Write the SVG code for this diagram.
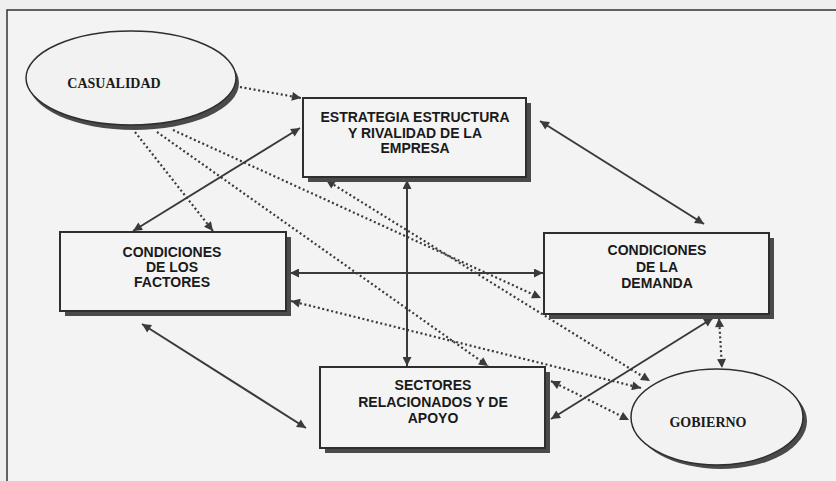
<svg xmlns="http://www.w3.org/2000/svg" width="836" height="481" viewBox="0 0 836 481">
<defs>
<style>
.box{fill:#f4f4f4;stroke:#2e2e2e;stroke-width:2}
.shadow{fill:#4a4a4a}
.lbl{font-family:"Liberation Sans",Arial,sans-serif;font-weight:bold;font-size:14px;fill:#1a1a1a;text-anchor:middle}
.olbl{font-family:"Liberation Serif","Times New Roman",serif;font-weight:bold;font-size:14px;fill:#1a1a1a;text-anchor:middle}
.solid{fill:none;stroke:#3a3a3a;stroke-width:2}
.dot{fill:none;stroke:#3a3a3a;stroke-width:2.2;stroke-dasharray:2 2.6}
</style>
<marker id="ah" viewBox="0 0 10 10" refX="10" refY="5" markerWidth="10" markerHeight="9" markerUnits="userSpaceOnUse" orient="auto-start-reverse">
<path d="M0,0 L10,5 L0,10 Z" fill="#3a3a3a"/>
</marker>
</defs>
<rect x="0" y="0" width="836" height="481" fill="#efefef"/>
<rect x="7" y="10" width="829" height="471" fill="#f3f3f3"/>
<path d="M7,481 L7,10 L836,10" fill="none" stroke="#333" stroke-width="1.5"/>

<g id="connectors">
<path class="solid" d="M133,231 L300,128" marker-start="url(#ah)" marker-end="url(#ah)"/>
<path class="solid" d="M540,121 L704,224" marker-start="url(#ah)" marker-end="url(#ah)"/>
<path class="solid" d="M407,180 L407,366" marker-start="url(#ah)" marker-end="url(#ah)"/>
<path class="solid" d="M290,273 L543,273" marker-start="url(#ah)" marker-end="url(#ah)"/>
<path class="solid" d="M142,324 L306,428" marker-start="url(#ah)" marker-end="url(#ah)"/>
<path class="solid" d="M551,419 L713,318" marker-start="url(#ah)" marker-end="url(#ah)"/>
<path class="dot" d="M240,87 L301,98" marker-end="url(#ah)"/>
<path class="dot" d="M135,132 L213,231" marker-end="url(#ah)"/>
<path class="dot" d="M157,132 L488,366" marker-end="url(#ah)"/>
<path class="dot" d="M173,130 L541,298" marker-end="url(#ah)"/>
<path class="dot" d="M326,180 L650,381" marker-start="url(#ah)" marker-end="url(#ah)"/>
<path class="dot" d="M291,301 L641,388" marker-start="url(#ah)" marker-end="url(#ah)"/>
<path class="dot" d="M551,381 L629,420" marker-start="url(#ah)" marker-end="url(#ah)"/>
<path class="dot" d="M719,318 L722,368" marker-start="url(#ah)" marker-end="url(#ah)"/>
</g>

<g id="casualidad">
<ellipse class="shadow" cx="134" cy="83" rx="105" ry="47"/>
<ellipse cx="131" cy="78" rx="105" ry="47" fill="#f2f2f2" stroke="#2e2e2e" stroke-width="1.5"/>
<text class="olbl" x="114" y="88">CASUALIDAD</text>
</g>

<g id="estrategia">
<rect class="shadow" x="308" y="103" width="223" height="79"/>
<rect class="box" x="303" y="98" width="223" height="79"/>
<text class="lbl" x="415" y="122">ESTRATEGIA ESTRUCTURA</text>
<text class="lbl" x="415" y="137.5">Y RIVALIDAD DE LA</text>
<text class="lbl" x="415" y="153">EMPRESA</text>
</g>

<g id="factores">
<rect class="shadow" x="65" y="237" width="226" height="79"/>
<rect class="box" x="60" y="232" width="226" height="79"/>
<text class="lbl" x="172" y="257">CONDICIONES</text>
<text class="lbl" x="172" y="272">DE LOS</text>
<text class="lbl" x="172" y="287">FACTORES</text>
</g>

<g id="demanda">
<rect class="shadow" x="549" y="238" width="225" height="81"/>
<rect class="box" x="544" y="233" width="225" height="81"/>
<text class="lbl" x="657" y="255">CONDICIONES</text>
<text class="lbl" x="657" y="271.5">DE LA</text>
<text class="lbl" x="657" y="288">DEMANDA</text>
</g>

<g id="sectores">
<rect class="shadow" x="325" y="372" width="225" height="81"/>
<rect class="box" x="320" y="367" width="225" height="81"/>
<text class="lbl" x="433" y="390">SECTORES</text>
<text class="lbl" x="433" y="406.5">RELACIONADOS Y DE</text>
<text class="lbl" x="433" y="423">APOYO</text>
</g>

<g id="gobierno">
<ellipse class="shadow" cx="721" cy="421" rx="86" ry="48"/>
<ellipse cx="717" cy="417" rx="86" ry="48" fill="#f2f2f2" stroke="#2e2e2e" stroke-width="1.5"/>
<text class="olbl" x="708" y="427">GOBIERNO</text>
</g>
</svg>
